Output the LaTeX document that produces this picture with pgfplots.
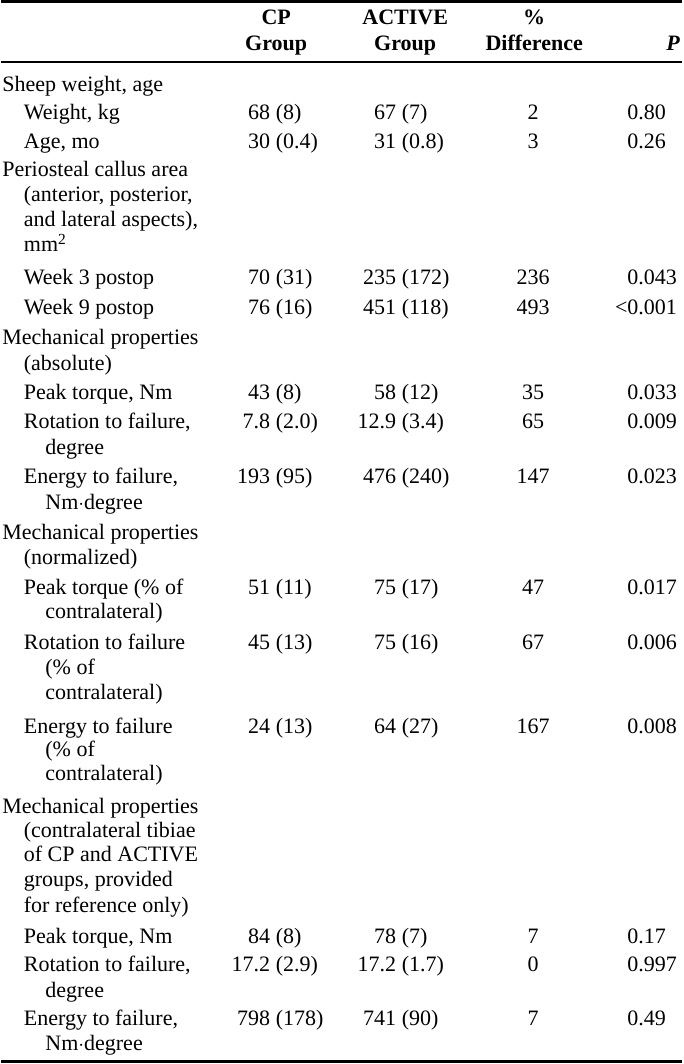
\documentclass[border=0pt]{standalone}
\usepackage{pgfplots}
\usepackage{pgfplotstable}
\pgfplotsset{compat=1.18}
\usepackage{fontspec}
\setmainfont{Liberation Serif}
\newcommand\tf{\fontsize{22bp}{23bp}\selectfont}
\tikzset{L/.style={font=\tf, inner sep=0pt, anchor=#1, text=black}, L/.default=base west}

% row baselines (px from top) and cell values
\pgfplotstableread[col sep=semicolon]{
y;cpm;cps;acm;acs;dif;p
119.5;68;(8);67;(7);2;0.80
148.5;30;(0.4);31;(0.8);3;0.26
284.5;70;(31);235;(172);236;0.043
314.5;76;(16);451;(118);493;\llap{<}0.001
399;43;(8);58;(12);35;0.033
428;7.8;(2.0);12.9;(3.4);65;0.009
483;193;(95);476;(240);147;0.023
594.5;51;(11);75;(17);47;0.017
649.5;45;(13);75;(16);67;0.006
733.5;24;(13);64;(27);167;0.008
943.5;84;(8);78;(7);7;0.17
971;17.2;(2.9);17.2;(1.7);0;0.997
1025;798;(178);741;(90);7;0.49
}\vals

\begin{document}
\begin{tikzpicture}
\begin{axis}[
  width=681bp, height=1064bp, scale only axis,
  xmin=0, xmax=681, ymin=0, ymax=1064, y dir=reverse,
  hide axis, clip=false,
  valcol/.style={only marks, mark=*, mark size=0.01pt,
    mark options={draw opacity=0, fill opacity=0},
    nodes near coords, point meta=explicit symbolic,
    every node near coord/.append style={anchor=#1, inner sep=0pt, font=\tf, text=black, opacity=1}},
]
% bounding frame (invisible)
\addplot[draw=none, mark=none] coordinates {(0,0) (681,1064)};
% rules
\addplot[black, line width=2.2bp, mark=none] coordinates {(0,1.5) (681,1.5)};
\addplot[black, line width=1.8bp, mark=none] coordinates {(0,62) (681,62)};
\addplot[black, line width=2.4bp, mark=none] coordinates {(0,1061.6) (681,1061.6)};

% header
\node[L=base] at (axis cs:275,24) {\textbf{CP}};
\node[L=base] at (axis cs:275,50) {\textbf{Group}};
\node[L=base] at (axis cs:404,24) {\textbf{ACTIVE}};
\node[L=base] at (axis cs:404,50) {\textbf{Group}};
\node[L=base] at (axis cs:533,24) {\textbf{\%}};
\node[L=base] at (axis cs:533,50) {\textbf{Difference}};
\node[L=base east] at (axis cs:679,50) {\textbf{\textit{P}}};

% row labels
\node[L] at (axis cs:1,91.5) {Sheep weight, age};
\node[L] at (axis cs:22.5,119.5) {Weight, kg};
\node[L] at (axis cs:22.5,148.5) {Age, mo};
\node[L] at (axis cs:1,176.5) {Periosteal callus area};
\node[L] at (axis cs:22.5,201.5) {(anterior, posterior,};
\node[L] at (axis cs:22.5,226.5) {and lateral aspects),};
\node[L] at (axis cs:22.5,251.5) {mm\textsuperscript{2}};
\node[L] at (axis cs:22.5,284.5) {Week 3 postop};
\node[L] at (axis cs:22.5,314.5) {Week 9 postop};
\node[L] at (axis cs:1,344.5) {Mechanical properties};
\node[L] at (axis cs:22.5,370) {(absolute)};
\node[L] at (axis cs:22.5,399) {Peak torque, Nm};
\node[L] at (axis cs:22.5,428) {Rotation to failure,};
\node[L] at (axis cs:44,454) {degree};
\node[L] at (axis cs:22.5,483) {Energy to failure,};
\node[L] at (axis cs:44,509) {Nm$\cdot$degree};
\node[L] at (axis cs:1,539.5) {Mechanical properties};
\node[L] at (axis cs:22.5,564) {(normalized)};
\node[L] at (axis cs:22.5,594.5) {Peak torque (\% of};
\node[L] at (axis cs:44,618) {contralateral)};
\node[L] at (axis cs:22.5,649.5) {Rotation to failure};
\node[L] at (axis cs:44,674.5) {(\% of};
\node[L] at (axis cs:44,699) {contralateral)};
\node[L] at (axis cs:22.5,733.5) {Energy to failure};
\node[L] at (axis cs:44,756.5) {(\% of};
\node[L] at (axis cs:44,780.5) {contralateral)};
\node[L] at (axis cs:1,813.5) {Mechanical properties};
\node[L] at (axis cs:22.5,837) {(contralateral tibiae};
\node[L] at (axis cs:22.5,861) {of CP and ACTIVE};
\node[L] at (axis cs:22.5,886.5) {groups, provided};
\node[L] at (axis cs:22.5,912) {for reference only)};
\node[L] at (axis cs:22.5,943.5) {Peak torque, Nm};
\node[L] at (axis cs:22.5,971) {Rotation to failure,};
\node[L] at (axis cs:44,997) {degree};
\node[L] at (axis cs:22.5,1025) {Energy to failure,};
\node[L] at (axis cs:44,1050.5) {Nm$\cdot$degree};

% values
\addplot[valcol=base east] table[x expr=269, y=y, meta=cpm] {\vals};
\addplot[valcol=base west] table[x expr=274.5, y=y, meta=cps] {\vals};
\addplot[valcol=base east] table[x expr=395, y=y, meta=acm] {\vals};
\addplot[valcol=base west] table[x expr=400.5, y=y, meta=acs] {\vals};
\addplot[valcol=base] table[x expr=532, y=y, meta=dif] {\vals};
\addplot[valcol=base west] table[x expr=626, y=y, meta=p] {\vals};
\end{axis}
\end{tikzpicture}
\end{document}
